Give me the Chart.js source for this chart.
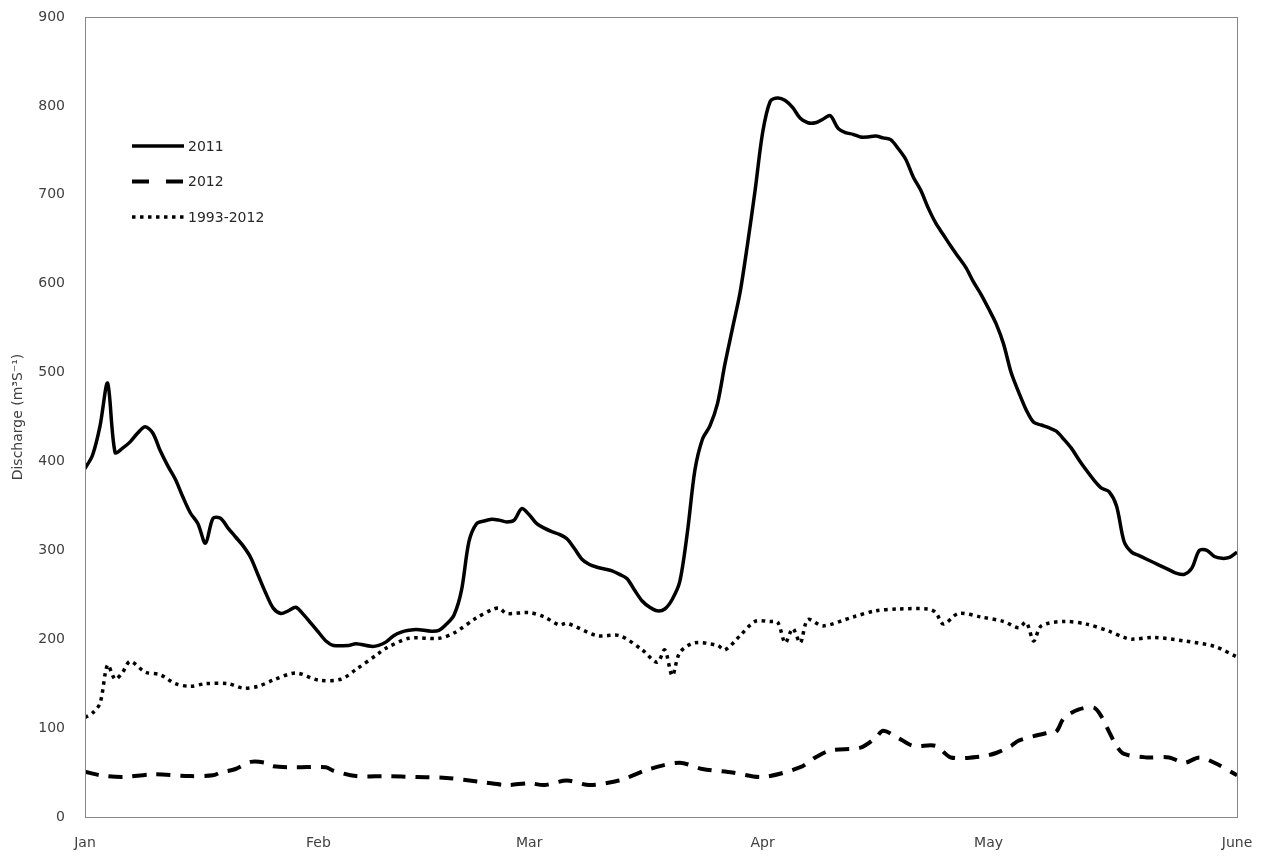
<!DOCTYPE html>
<html>
<head>
<meta charset="utf-8">
<script src="https://cdn.jsdelivr.net/npm/chart.js@4"></script>
<style>
  html, body { margin: 0; padding: 0; background: #fff; }
  #wrap { width: 1261px; height: 856px; }
</style>
</head>
<body>
<div id="wrap"><canvas id="chart"></canvas></div>
<script>
// month ticks (day index from Jan 1) and their labels
const monthDays = [0, 31, 59, 90, 120, 153];
const monthLabels = ['Jan', 'Feb', 'Mar', 'Apr', 'May', 'June'];

// 2011 discharge
const days2011 = [0,1,2,3,4,5,6,7,8,9,10,11,12,13,14,15,16,17,18,19,20,21,22,23,24,25,26,27,28,29,30,31,32,33,35,36,38,39,40,41,42,43,44,46,47,48,49,50,51,52,53,54,55,56,57,58,59,60,61,62,63,64,65,66,67,68,69,70,71,72,73,74,75,76,77,78,79,80,81,82,83,84,85,86,87,88,89,90,91,92,93,94,95,96,97,98,99,100,101,102,103,104,105,106,107,108,109,110,111,112,113,114,115,116,117,118,119,120,121,122,123,124,125,126,127,128,129,130,131,132,133,134,135,136,137,138,139,140,141,142,143,144,145,146,147,148,149,150,151,152,153];
const flow2011 = [392,407,440,488,410,415,422,432,439,432,412,395,380,360,342,330,308,336,336,325,315,305,292,272,252,235,229,232,236,228,218,208,198,193,193,195,192,193,197,204,208,210,211,209,210,217,227,255,310,330,333,335,334,332,334,347,340,330,325,321,318,313,302,290,284,281,279,277,273,268,255,243,236,232,234,245,265,320,390,425,440,465,510,550,590,645,705,770,805,809,806,798,786,781,781,785,789,775,770,768,765,765,766,764,762,752,740,720,705,685,668,655,642,630,618,602,588,572,555,532,500,478,458,444,441,438,434,425,415,402,390,379,370,366,350,310,298,294,290,286,282,278,274,273,280,300,300,293,291,292,298];

// 2012 discharge
const days2012 = [0,2,5,9,14,17,18,20,22,24,25,28,32,33,36,40,44,48,53,56,59,61,64,67,71,72,75,79,82,86,90,95,97,99,103,105,106,108,110,113,115,119,121,123,124,128,129,130,132,134,135,136,137,138,141,144,146,148,150,153];
const flow2012 = [51,47,45,48,46,47,50,54,62,61,57,56,56,52,46,46,45,44,39,36,38,36,41,36,41,44,54,61,54,50,45,56,67,75,78,89,97,89,80,80,67,68,72,80,86,95,96,111,121,123,113,96,80,71,67,67,61,67,61,47];

// 1993-2012 mean discharge
const daysMean = [0,1,2,3,4,5,6,8,10,12,14,16,19,21,23,25,28,31,34,36,39,40,43,47,49,52,54,55,56,59,61,63,64,68,71,74,76,77,78,79,81,84,85,87,89,91,92,93,94,95,96,98,102,105,108,112,113,114,116,119,122,124,125,126,127,130,133,136,138,139,142,146,150,153];
const flowMean = [112,117,128,171,155,163,175,163,160,150,147,150,150,145,147,154,162,154,155,166,184,190,201,201,207,224,233,235,229,230,225,216,218,204,204,188,174,188,159,185,196,193,188,204,220,220,219,196,212,196,222,215,225,232,234,234,230,217,229,225,220,213,219,198,215,220,217,209,202,200,202,198,192,180];

const pairs = (xs, ys) => xs.map((x, i) => ({ x: x, y: ys[i] }));

const FONT = 'DejaVu Sans';

const frame = {
  id: 'frame',
  afterDraw(chart) {
    const a = chart.chartArea, ctx = chart.ctx;
    ctx.save();
    ctx.strokeStyle = '#868686';
    ctx.lineWidth = 1;
    ctx.strokeRect(Math.round(a.left) + 0.5, Math.round(a.top) + 0.5, Math.round(a.right - a.left), Math.round(a.bottom - a.top));
    ctx.restore();
  }
};

const insideLegend = {
  id: 'insideLegend',
  afterDraw(chart) {
    const a = chart.chartArea, ctx = chart.ctx;
    chart.data.datasets.forEach((ds, i) => {
      const y = a.top + 129 + i * 35.5;
      const x0 = a.left + 47;
      ctx.save();
      ctx.strokeStyle = ds.borderColor;
      ctx.lineWidth = ds.borderWidth;
      ctx.setLineDash(ds.legendDash || ds.borderDash || []);
      ctx.beginPath();
      ctx.moveTo(x0, y);
      ctx.lineTo(x0 + 52, y);
      ctx.stroke();
      ctx.setLineDash([]);
      ctx.fillStyle = '#262626';
      ctx.font = '14px ' + FONT;
      ctx.textBaseline = 'middle';
      ctx.fillText(ds.label, x0 + 56, y + 1);
      ctx.restore();
    });
  }
};

const chart = new Chart(document.getElementById('chart'), {
  type: 'line',
  data: {
    datasets: [
      {
        label: '2011',
        data: pairs(days2011, flow2011),
        borderColor: '#000',
        borderWidth: 3.5,
        pointRadius: 0,
        tension: 0.3
      },
      {
        label: '2012',
        data: pairs(days2012, flow2012),
        borderColor: '#000',
        borderWidth: 4,
        borderDash: [14, 10],
        legendDash: [17, 17],
        pointRadius: 0,
        tension: 0.3
      },
      {
        label: '1993-2012',
        data: pairs(daysMean, flowMean),
        borderColor: '#000',
        borderWidth: 3.5,
        borderDash: [3.5, 4.5],
        pointRadius: 0,
        tension: 0.3
      }
    ]
  },
  options: {
    responsive: true,
    maintainAspectRatio: false,
    animation: false,
    layout: { padding: { top: 17, right: 24, left: 0, bottom: 0 } },
    plugins: {
      legend: { display: false },
      tooltip: { enabled: false }
    },
    scales: {
      x: {
        type: 'linear',
        min: 0,
        max: 153,
        grid: { display: false },
        border: { display: true, color: '#868686' },
        ticks: {
          autoSkip: false,
          maxRotation: 0,
          padding: 10,
          color: '#404040',
          font: { family: FONT, size: 14 },
          callback: (v, i) => monthLabels[i]
        },
        afterBuildTicks: s => { s.ticks = monthDays.map(v => ({ value: v })); },
        afterFit: s => { s.height = 39; s.paddingLeft = 0; s.paddingRight = 0; }
      },
      y: {
        min: 0,
        max: 900,
        grid: { display: false },
        border: { display: true, color: '#868686' },
        ticks: {
          stepSize: 100,
          padding: 12,
          color: '#404040',
          font: { family: FONT, size: 14 }
        },
        title: {
          display: true,
          text: 'Discharge (m³S⁻¹)',
          color: '#404040',
          font: { family: FONT, size: 14 },
          padding: { top: 10, bottom: 0 }
        },
        afterFit: s => { s.width = 85; s.paddingTop = 0; s.paddingBottom = 0; }
      }
    }
  },
  plugins: [frame, insideLegend]
});
</script>
</body>
</html>
